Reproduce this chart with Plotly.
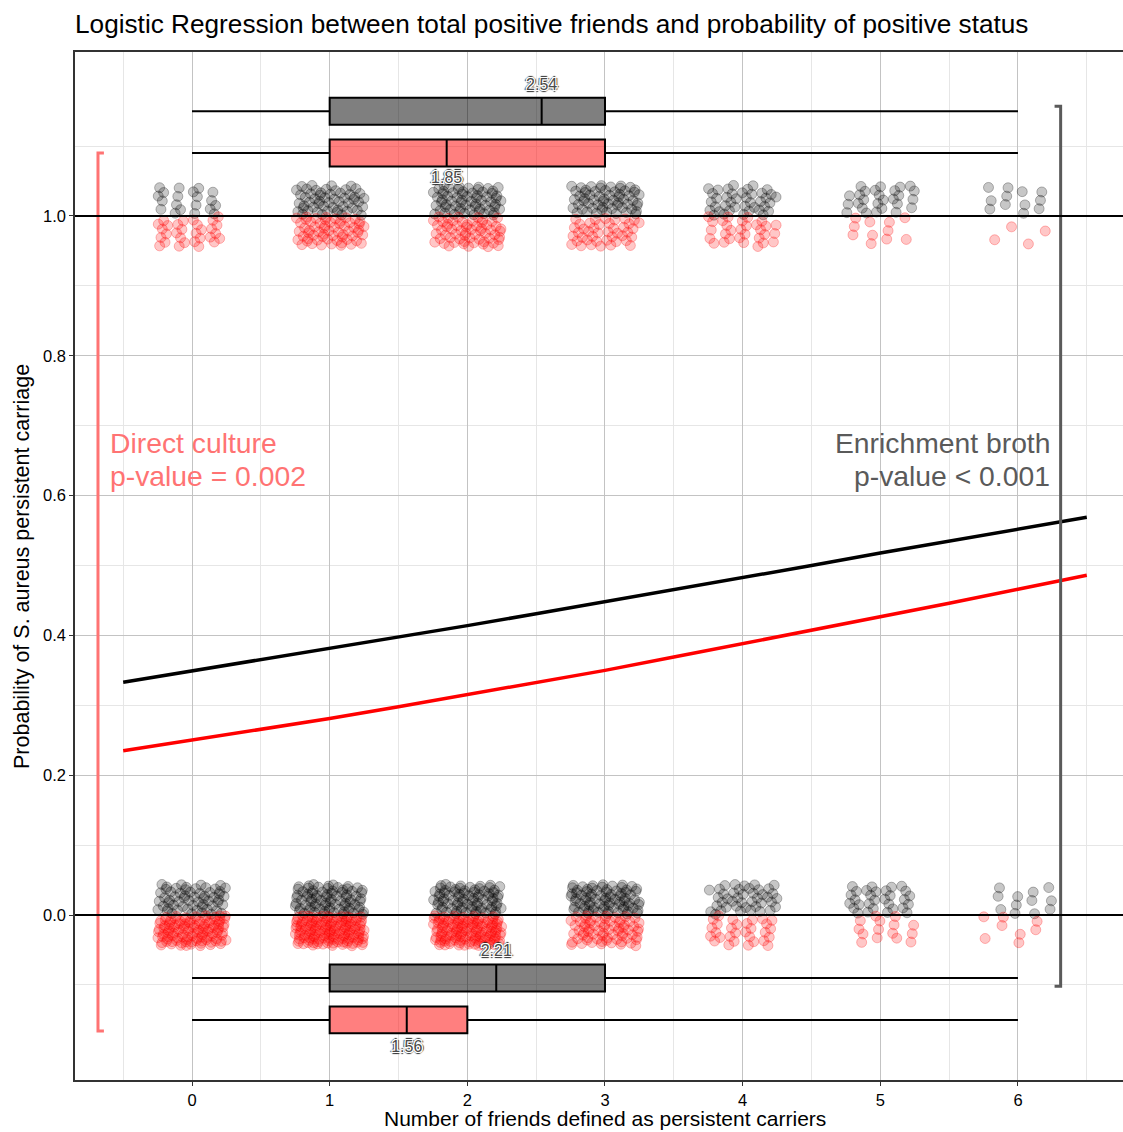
import plotly.graph_objects as go

FONT = "Liberation Sans, Arial, Helvetica, sans-serif"

# ---- data -------------------------------------------------------------
friends = [0, 1, 2, 3, 4, 5, 6]

# number of participants at each friend count, by test outcome
eb_pos = [20, 55, 65, 60, 40, 27, 12]    # enrichment broth, positive
eb_neg = [60, 80, 80, 80, 42, 30, 12]    # enrichment broth, negative
dc_pos = [30, 60, 60, 42, 30, 11, 4]     # direct culture, positive
dc_neg = [110, 135, 125, 70, 30, 15, 8]  # direct culture, negative

# fitted logistic regression probabilities
curve_x = [-0.5, 0.0, 0.5, 1.0, 1.5, 2.0, 2.5, 3.0, 3.5, 4.0, 4.5, 5.0, 5.5, 6.0, 6.5]
eb_fit = [0.333, 0.349, 0.365, 0.381, 0.398, 0.414, 0.431, 0.448, 0.466, 0.483,
          0.500, 0.518, 0.535, 0.552, 0.569]
dc_fit = [0.235, 0.250, 0.265, 0.281, 0.298, 0.315, 0.332, 0.350, 0.369, 0.388,
          0.407, 0.426, 0.446, 0.466, 0.486]

# box summaries of friend counts: lower, q1, centre line, q3, upper
box_names = ["EB positive", "DC positive", "EB negative", "DC negative"]
box_row = [1.15, 1.09, -0.09, -0.15]
box_low = [0, 0, 0, 0]
box_q1 = [1, 1, 1, 1]
box_mid = [2.54, 1.85, 2.21, 1.56]
box_q3 = [3, 3, 3, 2]
box_high = [6, 6, 6, 6]
box_label_y = [1.186, 1.053, -0.053, -0.190]

# brackets spanning each method's outcome range
dc_bracket_x = [-0.64, -0.683, -0.683, -0.64]
dc_bracket_y = [1.09, 1.09, -0.166, -0.166]
eb_bracket_x = [6.266, 6.31, 6.31, 6.266]
eb_bracket_y = [1.157, 1.157, -0.102, -0.102]

# ---- styling ----------------------------------------------------------
BLACK_PT = "rgba(0,0,0,0.22)"
RED_PT = "rgba(255,0,0,0.22)"
PINK = "rgb(255,115,115)"
GREY = "rgb(90,90,90)"


def spread(counts, outcome, side, start):
    """Expand counts into jittered point positions (low-discrepancy spread)."""
    xs, ys = [], []
    k = start
    for fx, n in zip(friends, counts):
        for _ in range(n):
            k += 1
            u = (0.5 + k * 0.7548776662466927) % 1.0
            v = (0.5 + k * 0.5698402909980532) % 1.0
            xs.append(fx + (2 * u - 1) * 0.25)
            ys.append(outcome + side * 0.0225 + (2 * v - 1) * 0.0215)
    return xs, ys


fig = go.Figure()

groups = [
    (eb_pos, 1, +1, BLACK_PT, 0),
    (eb_neg, 0, +1, BLACK_PT, 1000),
    (dc_pos, 1, -1, RED_PT, 2000),
    (dc_neg, 0, -1, RED_PT, 3000),
]
for counts, outcome, side, col, start in groups:
    xs, ys = spread(counts, outcome, side, start)
    fig.add_trace(go.Scatter(
        x=xs, y=ys, mode="markers", showlegend=False, hoverinfo="skip",
        marker=dict(size=10, color=col,
                    line=dict(color=col.replace("0.22", "0.27"), width=1)),
    ))

# reference lines at the two outcomes
for yv in (0, 1):
    fig.add_hline(y=yv, line=dict(color="black", width=2), layer="above")

# fitted curves
fig.add_trace(go.Scatter(x=curve_x, y=eb_fit, mode="lines", showlegend=False,
                         line=dict(color="black", width=3.5)))
fig.add_trace(go.Scatter(x=curve_x, y=dc_fit, mode="lines", showlegend=False,
                         line=dict(color="red", width=3.5)))

# boxes
box_fill = ["rgba(0,0,0,0.5)", "rgba(255,0,0,0.5)", "rgba(0,0,0,0.5)", "rgba(255,0,0,0.5)"]
for i, name in enumerate(box_names):
    fig.add_trace(go.Box(
        name=name, orientation="h", y=[box_row[i]],
        q1=[box_q1[i]], median=[box_mid[i]], q3=[box_q3[i]],
        lowerfence=[box_low[i]], upperfence=[box_high[i]],
        width=0.0386, whiskerwidth=0, boxpoints=False,
        fillcolor=box_fill[i], line=dict(color="black", width=2),
        showlegend=False, hoverinfo="skip",
    ))

# centre-value labels
halo = ("1px 1px 0px white, -1px -1px 0px white, 1px -1px 0px white, "
        "-1px 1px 0px white, 0px 1px 0px white, 0px -1px 0px white, "
        "1px 0px 0px white, -1px 0px 0px white, "
        "2px 0px 1px #222, -2px 0px 1px #222, 0px 2px 1px #222, 0px -2px 1px #222")
fig.add_trace(go.Scatter(
    x=box_mid, y=box_label_y, mode="text",
    text=[f"{v:.2f}" for v in box_mid], showlegend=False, hoverinfo="skip",
    textfont=dict(family=FONT, size=16, color="#4a4a4a", shadow=halo),
))

# brackets
fig.add_trace(go.Scatter(x=dc_bracket_x, y=dc_bracket_y, mode="lines",
                         showlegend=False, hoverinfo="skip",
                         line=dict(color=PINK, width=3)))
fig.add_trace(go.Scatter(x=eb_bracket_x, y=eb_bracket_y, mode="lines",
                         showlegend=False, hoverinfo="skip",
                         line=dict(color=GREY, width=3)))

# method annotations
fig.add_annotation(x=-0.61, y=0.675, text="Direct culture", showarrow=False,
                   xanchor="left", yanchor="middle",
                   font=dict(family=FONT, size=28.3, color=PINK))
fig.add_annotation(x=-0.61, y=0.628, text="p-value = 0.002", showarrow=False,
                   xanchor="left", yanchor="middle",
                   font=dict(family=FONT, size=28.3, color=PINK))
fig.add_annotation(x=6.245, y=0.675, text="Enrichment broth", showarrow=False,
                   xanchor="right", yanchor="middle",
                   font=dict(family=FONT, size=28.3, color=GREY))
fig.add_annotation(x=6.245, y=0.628, text="p-value < 0.001", showarrow=False,
                   xanchor="right", yanchor="middle",
                   font=dict(family=FONT, size=28.3, color=GREY))

# axis titles
fig.add_annotation(xref="paper", yref="paper", x=0.5057, y=-0.0375,
                   text="Number of friends defined as persistent carriers",
                   showarrow=False, xanchor="center", yanchor="middle",
                   font=dict(family=FONT, size=21, color="black"))
fig.add_annotation(xref="paper", yref="paper", x=-0.0506, y=0.5,
                   text="Probability of S. aureus persistent carriage",
                   showarrow=False, textangle=-90, xanchor="center", yanchor="middle",
                   font=dict(family=FONT, size=21.5, color="black"))

fig.update_layout(
    width=1123, height=1132,
    margin=dict(l=75, r=0, t=52, b=52),
    paper_bgcolor="white", plot_bgcolor="white",
    boxmode="overlay",
    title=dict(text="Logistic Regression between total positive friends and probability of positive status",
               x=75 / 1123, xanchor="left", y=1 - 24 / 1132, yanchor="middle",
               font=dict(family=FONT, size=26.2, color="black")),
    font=dict(family=FONT, size=14, color="black"),
)

fig.update_xaxes(
    range=[-0.85, 6.763], tickmode="linear", tick0=0, dtick=1,
    showgrid=True, gridcolor="rgb(195,195,195)", gridwidth=1,
    minor=dict(dtick=0.5, tick0=0, showgrid=True, gridcolor="rgb(230,230,230)", gridwidth=1),
    showline=True, linecolor="#333", linewidth=1.5, mirror=True,
    ticks="outside", ticklen=4, tickcolor="#333",
    tickfont=dict(family=FONT, size=16.5, color="black"),
    zeroline=False,
)
fig.update_yaxes(
    range=[-0.236, 1.2346], tickmode="array",
    tickvals=[0, 0.2, 0.4, 0.6, 0.8, 1.0],
    ticktext=["0.0", "0.2", "0.4", "0.6", "0.8", "1.0"],
    showgrid=True, gridcolor="rgb(195,195,195)", gridwidth=1,
    minor=dict(tickmode="array", tickvals=[-0.1, 0.1, 0.3, 0.5, 0.7, 0.9, 1.1],
               showgrid=True, gridcolor="rgb(230,230,230)", gridwidth=1),
    showline=True, linecolor="#333", linewidth=1.5,
    ticks="outside", ticklen=4, tickcolor="#333",
    tickfont=dict(family=FONT, size=16.5, color="black"),
    zeroline=False,
)

fig.write_html("out.html")
